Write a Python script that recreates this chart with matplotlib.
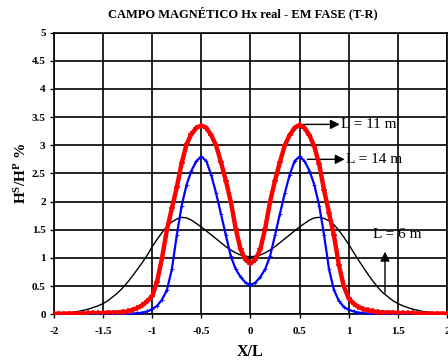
import numpy as np
import matplotlib
matplotlib.use("Agg")
import matplotlib.pyplot as plt

plt.rcParams["font.family"] = ["Liberation Serif", "DejaVu Serif"]
plt.rcParams["mathtext.fontset"] = "custom"
plt.rcParams["mathtext.rm"] = "Liberation Serif"
plt.rcParams["mathtext.bf"] = "Liberation Serif:bold"

# X/L sampling (step 0.05)
x_full = np.linspace(-2, 2, 81)
x_blue = np.linspace(-1.6, 1.6, 65)

# L = 6 m (black)
hs_6m = [0.01, 0.01, 0.02, 0.03, 0.04, 0.05, 0.07, 0.09, 0.12, 0.15,
         0.19, 0.24, 0.31, 0.38, 0.47, 0.57, 0.68, 0.80, 0.92, 1.05,
         1.20, 1.33, 1.45, 1.56, 1.64, 1.69, 1.72, 1.71, 1.67, 1.61,
         1.55, 1.48, 1.41, 1.34, 1.27, 1.20, 1.14, 1.09, 1.05, 1.03,
         1.02,
         1.03, 1.05, 1.09, 1.14, 1.20, 1.27, 1.34, 1.41, 1.48, 1.55,
         1.61, 1.67, 1.71, 1.72, 1.70, 1.66, 1.59, 1.49, 1.37, 1.24,
         1.10, 0.96, 0.83, 0.70, 0.58, 0.47, 0.38, 0.31, 0.24, 0.19,
         0.15, 0.12, 0.09, 0.07, 0.05, 0.04, 0.03, 0.02, 0.01, 0.01]

# L = 11 m (red)
hs_11m = [0.01, 0.01, 0.01, 0.01, 0.01, 0.01, 0.01, 0.02, 0.02, 0.02,
          0.02, 0.03, 0.03, 0.03, 0.04, 0.05, 0.08, 0.11, 0.16, 0.23,
          0.32, 0.58, 1.00, 1.50, 1.88, 2.25, 2.68, 3.02, 3.20, 3.31,
          3.35, 3.31, 3.18, 3.00, 2.70, 2.37, 2.00, 1.52, 1.15, 0.97,
          0.90,
          0.97, 1.15, 1.52, 2.00, 2.37, 2.70, 3.00, 3.18, 3.31, 3.36,
          3.31, 3.18, 2.98, 2.66, 2.20, 1.80, 1.40, 0.88, 0.50, 0.28,
          0.19, 0.13, 0.09, 0.07, 0.05, 0.04, 0.03, 0.03, 0.03, 0.02,
          0.02, 0.02, 0.02, 0.01, 0.01, 0.01, 0.01, 0.01, 0.01, 0.01]

# L = 14 m (blue)
hs_14m = [0.00, 0.00, 0.00, 0.00, 0.01, 0.01, 0.01, 0.01, 0.01, 0.02,
          0.03, 0.05, 0.09, 0.15, 0.26, 0.43, 0.80, 1.40, 1.93, 2.30,
          2.55, 2.72, 2.80, 2.72, 2.48, 2.15, 1.78, 1.40, 1.03, 0.80,
          0.66, 0.56, 0.52,
          0.56, 0.66, 0.80, 1.03, 1.40, 1.78, 2.15, 2.48, 2.72, 2.80,
          2.72, 2.55, 2.30, 1.93, 1.40, 0.80, 0.43, 0.24, 0.13, 0.08,
          0.05, 0.03, 0.02, 0.01, 0.01, 0.01, 0.01, 0.01, 0.00, 0.00,
          0.00, 0.00]

x_ticks = [-2, -1.5, -1, -0.5, 0, 0.5, 1, 1.5, 2]
x_tick_labels = ["-2", "-1.5", "-1", "-0.5", "0", "0.5", "1", "1.5", "2"]
y_ticks = [0, 0.5, 1, 1.5, 2, 2.5, 3, 3.5, 4, 4.5, 5]
y_tick_labels = ["0", "0.5", "1", "1.5", "2", "2.5", "3", "3.5", "4", "4.5", "5"]

fig = plt.figure(figsize=(4.48, 3.62), dpi=100)
ax = fig.add_axes([0.1205, 0.132, 0.877, 0.778])

ax.plot(x_full, hs_6m, color="black", lw=1.0, zorder=3)
ax.plot(x_blue, hs_14m, color="#0000ff", lw=1.6, marker="+", ms=2.5,
        mew=0.6, zorder=4)
ax.plot(x_full, hs_11m, color="#ff0000", lw=3.2, marker="+", ms=5,
        mew=1.2, zorder=5)

ax.set_xlim(-2, 2)
ax.set_ylim(0, 5)
ax.set_xticks(x_ticks)
ax.set_xticklabels(x_tick_labels)
ax.set_yticks(y_ticks)
ax.set_yticklabels(y_tick_labels)
ax.tick_params(axis="both", labelsize=8, length=3, width=1, color="black")
ax.tick_params(axis="x", pad=6)
ax.tick_params(axis="y", pad=3)
for lab in ax.get_xticklabels() + ax.get_yticklabels():
    lab.set_fontweight("bold")
ax.grid(True, color="black", lw=1.2, zorder=1)
ax.set_axisbelow(True)
for sp in ax.spines.values():
    sp.set_linewidth(1.2)

ax.set_xlabel("X/L", fontsize=11.5, fontweight="bold", labelpad=6)
ax.set_ylabel(r"$\mathbf{H^S/H^P}$ %", fontsize=11, fontweight="bold",
              labelpad=2)
fig.text(0.543, 0.962, "CAMPO MAGNÉTICO Hx real - EM FASE (T-R)",
         ha="center", va="center", fontsize=9, fontweight="bold")

arrow = dict(arrowstyle="-|>", color="black", lw=1.0, mutation_scale=14,
             shrinkA=0, shrinkB=0)
ax.annotate("", xy=(0.91, 3.37), xytext=(0.54, 3.37), arrowprops=arrow)
ax.text(0.92, 3.37, "L = 11 m", fontsize=11, va="center", ha="left")
ax.annotate("", xy=(0.96, 2.75), xytext=(0.58, 2.75), arrowprops=arrow)
ax.text(0.975, 2.75, "L = 14 m", fontsize=11, va="center", ha="left")
ax.annotate("", xy=(1.37, 1.11), xytext=(1.37, 0.38), arrowprops=arrow)
ax.text(1.49, 1.42, "L = 6 m", fontsize=11, va="center", ha="center")

fig.savefig("out.png", dpi=100)
